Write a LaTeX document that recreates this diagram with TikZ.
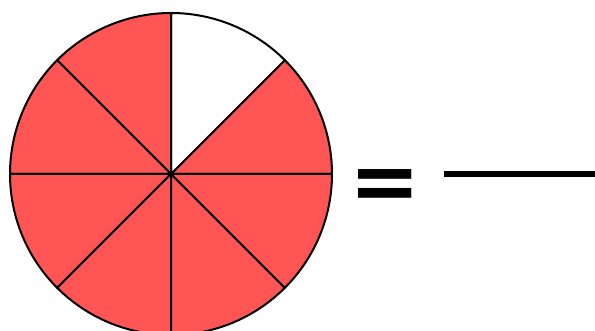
\documentclass[tikz,border=0pt]{standalone}
\usepackage{fontspec}
\setmainfont{DejaVu Sans}
\definecolor{slicered}{HTML}{FF5555}
\begin{document}
\begin{tikzpicture}[x=1pt,y=1pt,
  slice/.style={fill=slicered,draw=black,line width=2pt,line join=round},
  blank/.style={fill=white,draw=black,line width=2pt,line join=round}]
\useasboundingbox (0,0) rectangle (595,331);
\coordinate (c) at (171,157);
\foreach \a in {0,45,...,315}{
  \pgfmathsetmacro{\b}{\a+45}
  \ifnum\a=45
    \draw[blank] (c) -- ++(\a:161) arc[start angle=\a,end angle=\b,radius=161] -- cycle;
  \else
    \draw[slice] (c) -- ++(\a:161) arc[start angle=\a,end angle=\b,radius=161] -- cycle;
  \fi
}
\node[inner sep=0pt,font=\fontsize{85}{85}\selectfont\bfseries] (eq) at (385,141) {=};
\coordinate (l1) at (444,157);
\coordinate (l2) at (595,157);
\draw[line width=6pt] (l1) -- (l2);
\end{tikzpicture}
\end{document}
